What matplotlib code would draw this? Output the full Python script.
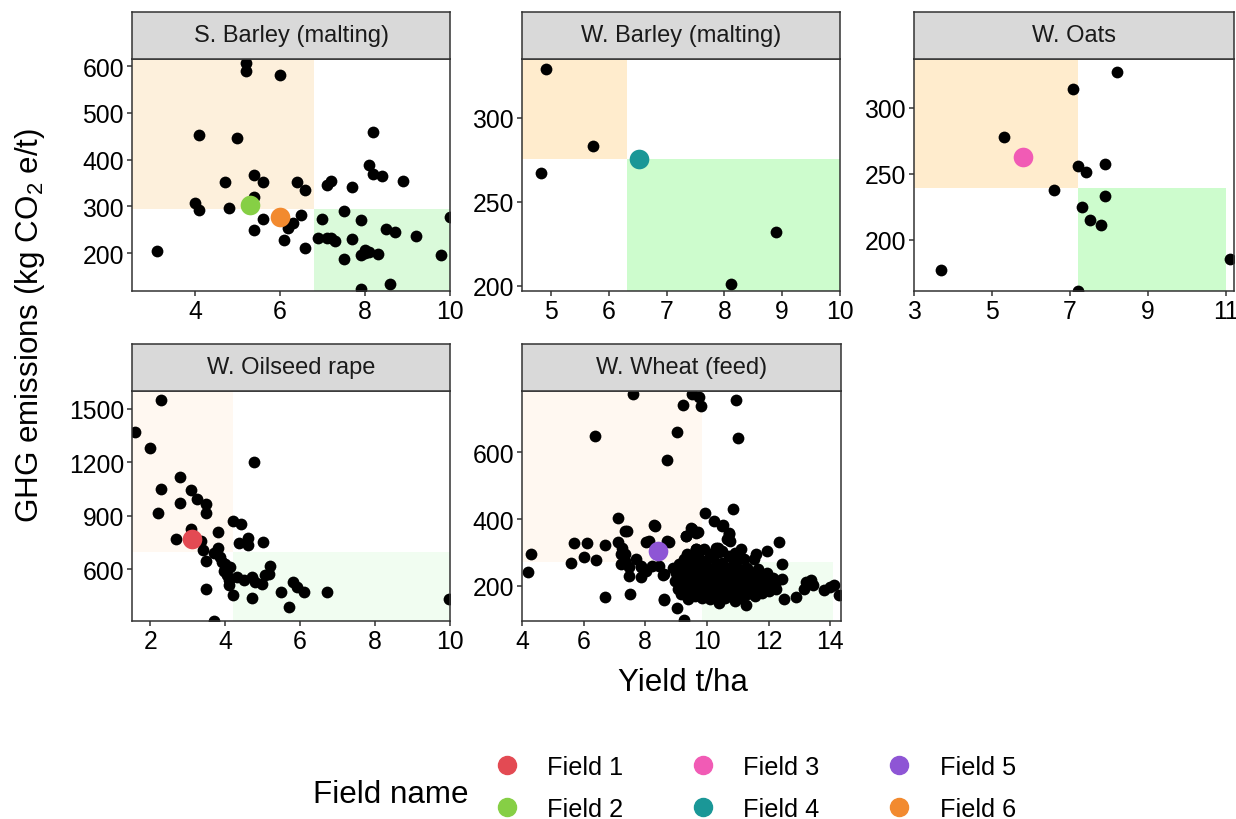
import matplotlib
matplotlib.use("Agg")
import matplotlib.pyplot as plt
from matplotlib.lines import Line2D
from matplotlib.patches import Rectangle

plt.rcParams['font.family'] = ['Liberation Sans', 'DejaVu Sans']
plt.rcParams['mathtext.fontset'] = 'custom'
plt.rcParams['mathtext.rm'] = 'Liberation Sans'
plt.rcParams['mathtext.it'] = 'Liberation Sans:italic'

# ---------------- data ----------------
crops = ["S. Barley (malting)", "W. Barley (malting)", "W. Oats",
         "W. Oilseed rape", "W. Wheat (feed)"]

sbarley_yield = [5.2, 5.2, 6.0, 4.1, 5.0, 8.2, 8.1, 8.2, 8.4, 8.9, 5.4, 5.6, 4.7, 6.4, 6.6,
                 7.1, 7.2, 7.7, 5.4, 4.0, 4.1, 4.8, 5.6, 5.4, 6.1, 6.2, 6.3, 6.5, 6.6, 7.0,
                 7.5, 7.9, 6.9, 7.1, 7.2, 7.3, 7.7, 8.5, 8.7, 9.2, 7.5, 7.9, 8.0, 8.3, 9.8,
                 10.0, 8.6, 7.9, 3.1, 8.0, 8.1]
sbarley_ghg = [607, 589, 580, 453, 446, 458, 389, 370, 365, 354, 368, 353, 351, 351, 336,
               345, 354, 341, 320, 308, 292, 297, 272, 249, 227, 253, 264, 281, 212, 273,
               291, 270, 233, 233, 232, 225, 230, 252, 245, 237, 188, 196, 207, 199, 196,
               278, 134, 124, 204, 200, 203]

wbarley_yield = [4.92, 5.72, 4.82, 8.9, 8.11]
wbarley_ghg = [329, 283, 267, 232, 201]

oats_yield = [8.2, 7.07, 5.3, 7.2, 7.4, 7.9, 6.6, 7.9, 7.3, 7.5, 7.8, 3.7, 11.1, 7.2]
oats_ghg = [327, 314, 278, 256, 251, 257, 238, 233, 225, 215, 211, 177, 185, 161]

osr_yield = [2.28, 1.6, 2.0, 4.78, 2.8, 2.28, 3.09, 3.24, 3.49, 3.49, 2.8, 2.2, 4.2, 4.42,
             3.8, 3.09, 2.68, 3.36, 4.6, 4.38, 4.6, 5.0, 3.8, 3.4, 3.49, 3.87, 4.0, 4.13,
             3.96, 4.04, 4.31, 4.49, 4.71, 4.8, 4.98, 5.07, 5.2, 5.16, 4.09, 4.2, 3.49,
             4.71, 5.49, 5.8, 5.91, 6.1, 6.71, 5.7, 9.96, 3.7, 3.9, 4.1, 3.7, 4.0]
osr_ghg = [1546, 1370, 1282, 1199, 1117, 1051, 1042, 992, 964, 918, 970, 918, 872, 853,
           811, 825, 770, 757, 776, 748, 737, 752, 718, 709, 650, 668, 631, 613,
           594, 567, 557, 539, 557, 530, 517, 567, 622, 576, 511, 460, 489,
           443, 474, 530, 502, 474, 474, 391, 437, 312, 640, 540, 690, 600]

wheat_yield = [7.61, 9.5, 9.75, 9.21, 9.82, 10.94, 6.38, 9.03, 11.02, 8.72, 9.94, 10.24,
               10.53, 10.73, 10.75, 10.86, 7.1, 7.35, 7.42, 8.31, 9.32, 9.53, 9.72, 5.7,
               6.11, 6.7, 7.1, 7.26, 7.35, 7.21, 7.35, 7.21, 7.48, 7.48, 7.7, 7.86, 7.86,
               8.11, 8.72, 4.29, 4.18, 5.59, 6.0, 6.4, 8.45, 8.56, 6.7, 7.5, 8.62, 9.04,
               9.26, 9.64, 10.35, 11.59, 11.53, 11.96, 12.34, 12.45, 12.45, 12.5, 12.88,
               13.2, 13.37, 13.15, 13.8, 14.13, 14.29, 13.43, 14.0, 11.28, 8.29, 8.02,
               8.77, 9.48, 9.64, 9.32, 10.5, 10.72, 10.66, 9.64, 10.34, 10.4, 7.86, 8.02,
               8.23, 8.61, 8.61,
               8.9, 8.95, 9.0, 9.05, 9.1, 9.1, 9.15, 9.2, 9.2, 9.25, 9.3, 9.3, 9.35, 9.4,
               9.4, 9.45, 9.5, 9.5, 9.55, 9.6, 9.6, 9.65, 9.7, 9.7, 9.75, 9.8, 9.8, 9.85,
               9.9, 9.9, 9.95, 10.0, 10.0, 10.05, 10.1, 10.1, 10.15, 10.2, 10.2, 10.25,
               10.3, 10.3, 10.35, 10.4, 10.4, 10.45, 10.5, 10.5, 10.55, 10.6, 10.6, 10.65,
               10.7, 10.7, 10.75, 10.8, 10.8, 10.85, 10.9, 10.9, 10.95, 11.0, 11.0, 11.05,
               11.1, 11.1, 11.15, 11.2, 11.2, 11.25, 11.3, 11.3, 11.35, 11.4, 11.45, 11.5,
               11.55, 11.6, 11.65, 11.7, 11.75, 11.8, 11.85, 11.9, 11.95, 12.0, 12.05,
               12.1, 12.15, 12.2, 12.25, 9.6, 9.9, 10.1, 10.5, 10.9, 11.1, 9.35, 10.3]
wheat_ghg = [774, 774, 766, 743, 738, 758, 649, 662, 643, 578, 418, 395,
             383, 355, 336, 430, 403, 365, 365, 380, 349, 370, 363, 328,
             328, 324, 331, 313, 296, 296, 276, 266, 256, 231, 281, 256, 227,
             334, 334, 296, 243, 268, 286, 279, 261, 232, 167, 177, 157, 133,
             98, 311, 313, 296, 281, 306, 331, 266, 222, 162, 167,
             212, 217, 192, 187, 202, 172, 202, 197, 142, 382, 333,
             333, 375, 360, 350, 380, 360, 341, 311, 311, 301, 261, 246,
             261, 237, 162,
             255, 215, 240, 190, 265, 225, 175, 250, 205, 280, 230, 185, 260, 210,
             160, 240, 275, 195, 225, 255, 170, 205, 290, 235, 185, 260, 215, 165,
             245, 195, 275, 225, 180, 255, 205, 160, 240, 285, 190, 220,
             260, 170, 200, 245, 150, 225, 270, 185, 210, 250, 165, 230,
             290, 195, 215, 260, 175, 240, 205, 155, 275, 225, 185, 250,
             200, 165, 235, 280, 190, 215, 255, 175, 205, 240, 190, 225,
             170, 210, 250, 195, 230, 180, 215, 200, 240, 185, 215,
             195, 225, 205, 190, 300, 310, 295, 305, 300, 310, 295, 315]

all_yield = [sbarley_yield, wbarley_yield, oats_yield, osr_yield, wheat_yield]
all_ghg = [sbarley_ghg, wbarley_ghg, oats_ghg, osr_ghg, wheat_ghg]

field_names = ["Field 1", "Field 2", "Field 3", "Field 4", "Field 5", "Field 6"]
field_crop = [3, 0, 2, 1, 4, 0]
field_yield = [3.1, 5.3, 5.8, 6.52, 8.42, 6.0]
field_ghg = [770, 303, 263, 275.5, 304, 278]
field_colors = ["#E34A53", "#86CF45", "#F15BB5", "#1A9797", "#8E55D5", "#F28A2F"]

# quadrant thresholds (yield, emissions) and right end of the green box
thr_yield = [6.8, 6.31, 7.2, 4.2, 9.83]
thr_ghg = [295, 275.5, 239, 696, 271]
green_xmax = [10.0, 10.0, 11.0, 10.0, 14.08]
orange_colors = ["#FDF0DC", "#FFECCD", "#FFECCD", "#FFF8F1", "#FFF8F1"]
green_colors = ["#DAFADA", "#CDFCCD", "#CDFCCD", "#F1FDF1", "#F1FDF1"]

xlims = [(2.52, 10.0), (4.5, 10.0), (3.0, 11.2), (1.51, 10.0), (4.0, 14.35)]
ylims = [(119, 615), (197, 335), (161, 337), (312, 1598), (95, 784)]
xticks = [[4, 6, 8, 10], [5, 6, 7, 8, 9, 10], [3, 5, 7, 9, 11], [2, 4, 6, 8, 10],
          [4, 6, 8, 10, 12, 14]]
yticks = [[200, 300, 400, 500, 600], [200, 250, 300], [200, 250, 300],
          [600, 900, 1200, 1500], [200, 400, 600]]

# ---------------- layout ----------------
W, H = 1236, 820
fig = plt.figure(figsize=(W / 100, H / 100), dpi=100)

# panel boxes in pixels: left, top, right, bottom
boxes = [(132, 60, 450, 292), (522, 60, 840, 292), (914, 60, 1234, 292),
         (132, 392, 450, 622), (522, 392, 841, 622)]
strip_h = 47
edge = "#333333"

for i, (l, t, r, b) in enumerate(boxes):
    ax = fig.add_axes([l / W, 1 - b / H, (r - l) / W, (b - t) / H])
    x0, x1 = xlims[i]
    y0, y1 = ylims[i]
    ax.add_patch(Rectangle((x0 - 50, thr_ghg[i]), thr_yield[i] - x0 + 50, 1e5,
                           facecolor=orange_colors[i], edgecolor='none', zorder=0))
    ax.add_patch(Rectangle((thr_yield[i], y0 - 1e4), green_xmax[i] - thr_yield[i],
                           thr_ghg[i] - y0 + 1e4,
                           facecolor=green_colors[i], edgecolor='none', zorder=0))
    ax.scatter(all_yield[i], all_ghg[i], s=72, color='black', linewidths=0, zorder=2)
    for k in range(len(field_names)):
        if field_crop[k] == i:
            ax.scatter([field_yield[k]], [field_ghg[k]], s=200, color=field_colors[k],
                       linewidths=0, zorder=3)
    ax.set_xlim(x0, x1)
    ax.set_ylim(y0, y1)
    ax.set_xticks(xticks[i])
    ax.set_yticks(yticks[i])
    ax.tick_params(labelsize=17.8, length=3.6, width=1.1, color=edge, pad=2.2,
                   labelcolor='black')
    for sp in ax.spines.values():
        sp.set_color(edge)
        sp.set_linewidth(1.1)
    # strip
    sx = fig.add_axes([l / W, 1 - t / H, (r - l) / W, strip_h / H])
    sx.set_facecolor("#D9D9D9")
    sx.set_xticks([])
    sx.set_yticks([])
    for sp in sx.spines.values():
        sp.set_color(edge)
        sp.set_linewidth(1.1)
    sx.text(0.5, 0.5, crops[i], ha='center', va='center', fontsize=17,
            color='#1A1A1A', transform=sx.transAxes)

fig.text(30 / W, 1 - 325 / H, r'GHG emissions (kg CO$_\mathrm{2}$ e/t)',
         rotation=90, ha='center', va='center', fontsize=22.6)
fig.text(683 / W, 1 - 683 / H, 'Yield t/ha', ha='center', va='center', fontsize=22.6)

handles = [Line2D([], [], marker='o', ls='', color=c, markersize=13) for c in field_colors]
fig.legend(handles, field_names, ncol=3, frameon=False, fontsize=18.2,
           loc='center left', bbox_to_anchor=(494 / W, 1 - 789 / H),
           borderpad=0, borderaxespad=0, handlelength=1.0, handletextpad=1.1,
           columnspacing=2.65, labelspacing=0.72)
fig.text(313 / W, 1 - 795 / H, 'Field name', ha='left', va='center', fontsize=22.6)

fig.savefig("out.png", dpi=100)
